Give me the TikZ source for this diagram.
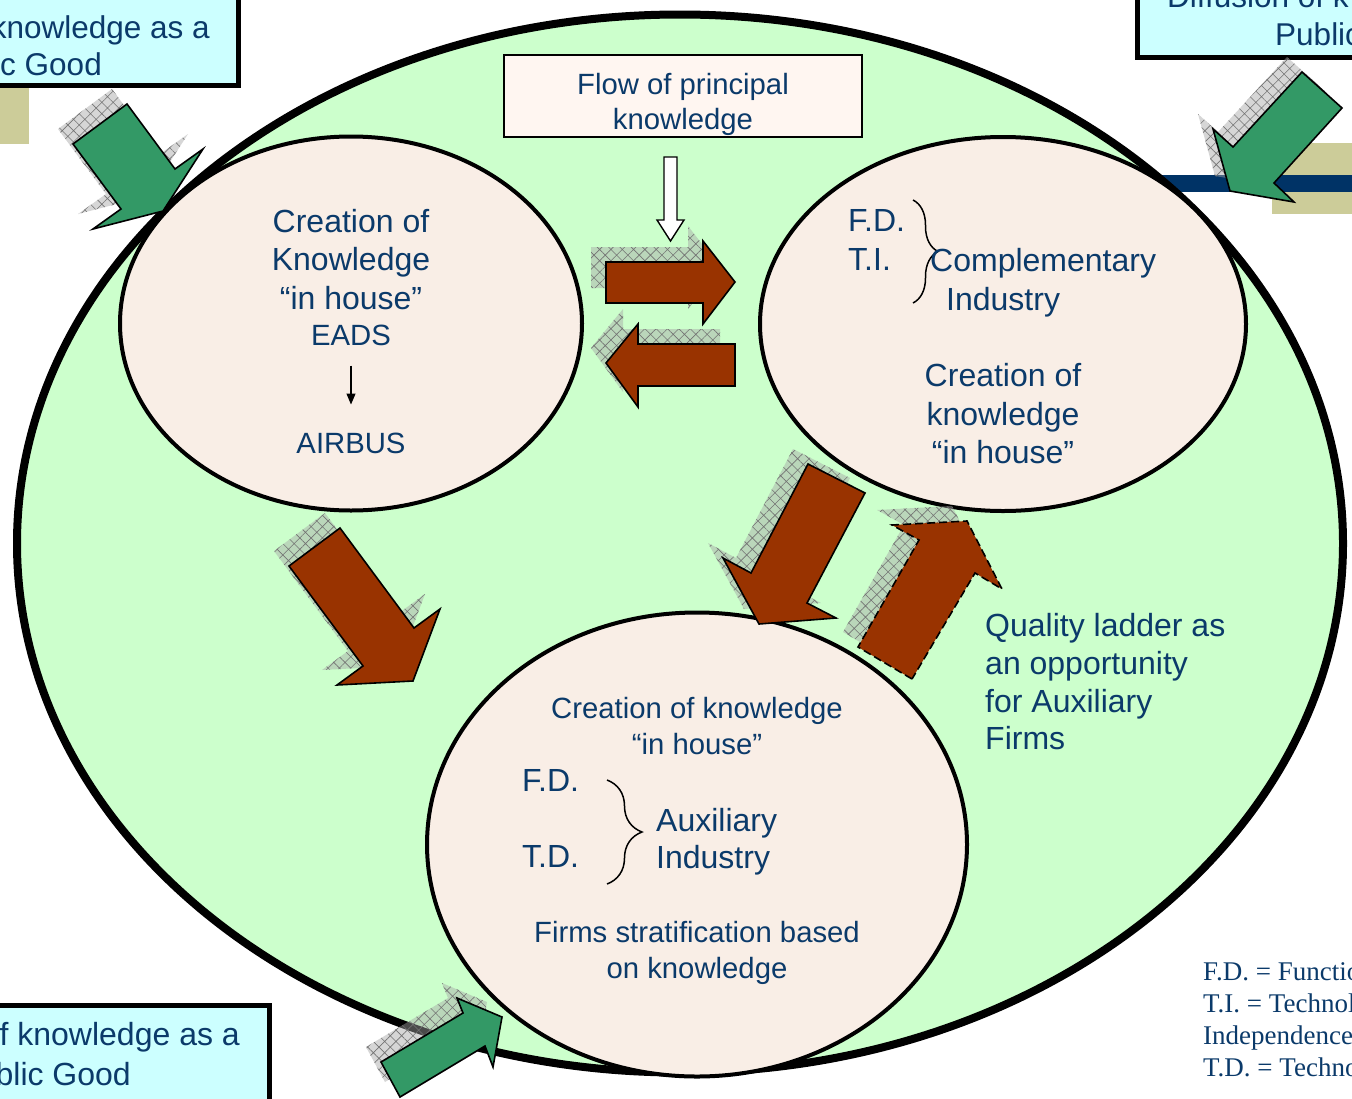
\documentclass[tikz,border=0pt]{standalone}
\usepackage{fontspec}
\setmainfont{Liberation Sans}
\newfontfamily\legendfont{Liberation Serif}
\usetikzlibrary{positioning,shapes.geometric,arrows.meta,decorations.pathreplacing,patterns.meta}
\definecolor{field}{HTML}{CCFFCC}
\definecolor{ovalfill}{HTML}{F9EEE6}
\definecolor{flowbg}{HTML}{FFF6F1}
\definecolor{skybox}{HTML}{CCFFFF}
\definecolor{rust}{HTML}{993300}
\definecolor{leaf}{HTML}{339966}
\definecolor{khaki}{HTML}{CCCC99}
\definecolor{navy}{HTML}{003366}
\definecolor{ink}{HTML}{0B3A6A}

\newcommand{\blockarrow}[2]{%
  \fill[hatchshadow,shift={(-15,-15)}] #2;
  \draw[#1] #2;}

\begin{document}
\begin{tikzpicture}[
  x=1pt,y=-1pt,
  txt/.style={inner sep=0pt,text=ink,font=\fontsize{32}{38.5}\selectfont},
  txtsm/.style={inner sep=0pt,text=ink,font=\fontsize{29.3}{36}\selectfont},
  skytxt/.style={inner sep=0pt,text=ink,font=\fontsize{31.5}{37}\selectfont},
  legend/.style={inner sep=0pt,text=ink,font=\legendfont\fontsize{27}{32}\selectfont},
  bigfield/.style={ellipse,draw=black,line width=8pt,fill=field,inner sep=0pt},
  knoval/.style={ellipse,draw=black,line width=4pt,fill=ovalfill,inner sep=0pt},
  flowbox/.style={rectangle,draw=black,line width=1.5pt,fill=flowbg,minimum width=358pt,minimum height=82pt},
  skyframe/.style={draw=black,line width=5pt,fill=skybox},
  hatchshadow/.style={fill=black!35,fill opacity=.45,
    postaction={pattern={Hatch[angle=45,distance=8pt,line width=.6pt]},pattern color=black!55}},
  rustarrow/.style={fill=rust,draw=black,line width=1.6pt},
  dasharrow/.style={rustarrow,dash pattern=on 8pt off 4pt},
  leafarrow/.style={fill=leaf,draw=black,line width=1.6pt},
  whitearrow/.style={fill=white,draw=black,line width=1.4pt},
  curly/.style={decorate,decoration={brace,amplitude=#1},line width=1.5pt}
]
\useasboundingbox (0,0) rectangle (1352,1098);
\clip (0,0) rectangle (1352,1098);
\fill[white] (0,0) rectangle (1352,1098);

\fill[khaki] (0,88) rectangle (29,144);
\fill[khaki] (1272,143) rectangle (1360,214);
\fill[navy] (1140,175) rectangle (1360,192);

\draw[skyframe] (-20,-20) rectangle (238.5,85);
\draw[skyframe] (1137.5,-20) rectangle (1370,57.5);
\draw[skyframe] (-20,1005.5) rectangle (269.5,1120);

\node[bigfield,minimum width=1326pt,minimum height=1058pt] (field) at (680,543.5) {};
\node[knoval,minimum width=462pt,minimum height=374pt] (eads) at (351,323.5) {};
\node[knoval,minimum width=486pt,minimum height=374pt] (compl) at (1003,324) {};
\node[knoval,minimum width=540pt,minimum height=464pt] (aux) at (697,844.5) {};

\node[flowbox] (flow) at (683,96) {};
\node[txtsm,anchor=north,align=center,font=\fontsize{29.3}{35}\selectfont] (flowtxt) at (683,73.5) {Flow of principal\\knowledge};
\draw[whitearrow] (664,157) -- (677,157) -- (677,220) -- (684,220) -- (670.5,241) -- (657,220) -- (664,220) -- cycle;

\blockarrow{rustarrow}{(606,262) -- (703,262) -- (703,241) -- (735,282) -- (703,324) -- (703,303) -- (606,303) -- cycle}
\blockarrow{rustarrow}{(735,344) -- (638,344) -- (638,324) -- (606,363) -- (638,407) -- (638,386) -- (735,386) -- cycle}
\blockarrow{rustarrow}{(289,566) -- (340,528) -- (414,628) -- (440,609) -- (413,681) -- (337,685) -- (363,666) -- cycle}
\blockarrow{rustarrow}{(808,464) -- (865,493) -- (807,603) -- (836,618) -- (759,624) -- (723,558) -- (751,573) -- cycle}
\blockarrow{dasharrow}{(912,679) -- (858,647) -- (919,540) -- (892,525) -- (967,521) -- (1002,589) -- (975,573) -- cycle}

\blockarrow{leafarrow}{(73,144) -- (127,104) -- (175,169) -- (203,149) -- (163,211) -- (93,229) -- (121,209) -- cycle}
\blockarrow{leafarrow}{(1302,72) -- (1342,108) -- (1274,183) -- (1294,202) -- (1230,191) -- (1213,129) -- (1233,147) -- cycle}
\blockarrow{leafarrow}{(381,1062) -- (463,1013) -- (457,998) -- (502,1017) -- (493,1067) -- (485,1046) -- (400,1097) -- cycle}

\node[skytxt,anchor=north east] (tlup) at (210,15) {knowledge as a};
\node[skytxt,anchor=north east] (tllow) at (102,52) {c Good};
\node[skytxt,anchor=north west] (trup) at (1167,-16) {Diffusion of k};
\node[skytxt,anchor=north west] (trlow) at (1275,22) {Public};
\node[skytxt,anchor=north east,font=\fontsize{32}{37}\selectfont] (blup) at (240,1022) {f knowledge as a};
\node[skytxt,anchor=north east,font=\fontsize{32}{37}\selectfont] (bllow) at (131,1062) {blic Good};

\node[txt,anchor=north,align=center] (eadstxt) at (351,209) {Creation of\\Knowledge\\“in house”};
\node[txtsm,anchor=north] (eadsname) at (351,324.5) {EADS};
\node[txtsm,anchor=north] (airbus) at (351,432.5) {AIRBUS};
\draw[-{Triangle[length=11pt,width=9pt]},line width=1.2pt,shorten <=20pt,shorten >=28pt] (eadsname) -- (airbus);

\node[txt,anchor=north west,align=left,font=\fontsize{32}{39}\selectfont] (fdti) at (848,209.5) {F.D.\\T.I.};
\draw[curly=25pt] (913,200) -- (913,303);
\node[txt,anchor=north west,align=left] (complind) at (930,248.5) {Complementary\\\hspace*{16pt}Industry};
\node[txt,anchor=north,align=center] (compltxt) at (1003,363.5) {Creation of\\knowledge\\“in house”};

\node[txtsm,anchor=north,align=center] (auxtop) at (697,697.5) {Creation of knowledge\\“in house”};
\node[txt,anchor=north west] (fd) at (522,769.5) {F.D.};
\node[txt,anchor=north west] (td) at (522,845.5) {T.D.};
\draw[curly=35pt] (607,780) -- (607,884);
\node[txt,anchor=north west,align=left,font=\fontsize{32}{37}\selectfont] (auxind) at (656,808.5) {Auxiliary\\Industry};
\node[txtsm,anchor=north,align=center] (strat) at (697,921.5) {Firms stratification based\\on knowledge};

\node[txt,anchor=north west,align=left,font=\fontsize{32}{37.7}\selectfont] (ladder) at (985,613.5) {Quality ladder as\\an opportunity\\for Auxiliary\\Firms};

\node[legend,anchor=north west,align=left] (key) at (1203,962.5) {F.D. = Functio\\T.I. = Technol\\Independence\\T.D. = Techno};
\end{tikzpicture}
\end{document}
